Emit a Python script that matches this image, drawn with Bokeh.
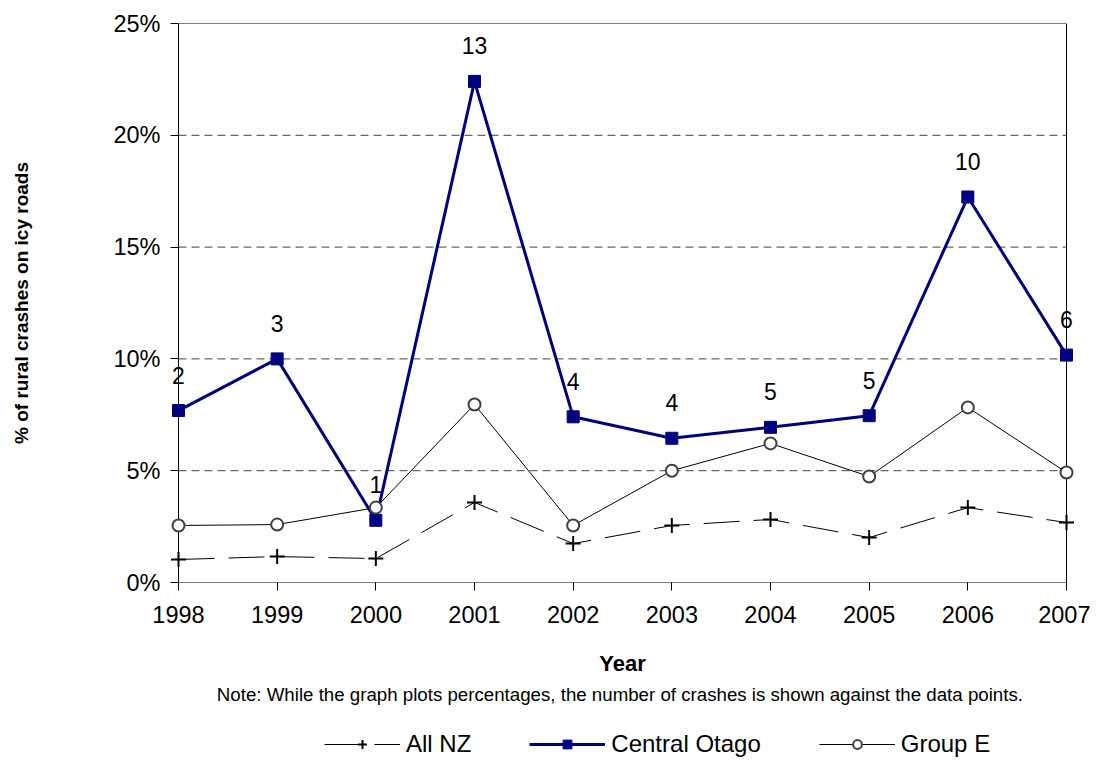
from bokeh.plotting import figure
from bokeh.layouts import column
from bokeh.models import (Range1d, FixedTicker, PrintfTickFormatter, Legend, LegendItem,
                          Title, Label)
from bokeh.embed import file_html
from bokeh.resources import INLINE

years = [1998, 1999, 2000, 2001, 2002, 2003, 2004, 2005, 2006, 2007]
all_nz = [1.03, 1.16, 1.07, 3.58, 1.74, 2.55, 2.82, 2.01, 3.35, 2.68]
central_otago = [7.69, 10.0, 2.78, 22.41, 7.41, 6.45, 6.94, 7.46, 17.24, 10.17]
group_e = [2.55, 2.59, 3.35, 7.96, 2.55, 5.0, 6.22, 4.74, 7.83, 4.92]
crash_counts = ["2", "3", "1", "13", "4", "4", "5", "5", "10", "6"]
y_ticks = [0, 5, 10, 15, 20, 25]
series_names = ["All NZ", "Central Otago", "Group E"]

FONT = "Liberation Sans"
NAVY = "#000080"

# a little horizontal room so labels at the first/last year are not clipped
pad = (years[-1] - years[0]) * 8.0 / 888.0

p = figure(frame_width=904, frame_height=559, output_backend="svg", toolbar_location=None,
           x_range=Range1d(years[0] - pad, years[-1] + pad),
           y_range=Range1d(y_ticks[0], y_ticks[-1]),
           min_border_left=170, min_border_right=16, min_border_top=23, min_border_bottom=143)
p.outline_line_color = None
p.background_fill_color = "white"
p.border_fill_color = "white"

# axes
p.xaxis.ticker = FixedTicker(ticks=years)
p.yaxis.ticker = FixedTicker(ticks=y_ticks)
p.yaxis.formatter = PrintfTickFormatter(format="%d%%")
for ax in (p.xaxis[0], p.yaxis[0]):
    ax.axis_line_color = None
    ax.major_tick_line_color = "black"
    ax.minor_tick_line_color = None
    ax.major_label_text_font = FONT
    ax.major_label_text_font_size = "23.5px"
    ax.major_label_text_color = "black"
    ax.axis_label_text_font = FONT
    ax.axis_label_text_font_style = "bold"
    ax.axis_label_text_color = "black"
p.xaxis.major_tick_in = 0
p.xaxis.major_tick_out = 8
p.yaxis.major_tick_in = 8
p.yaxis.major_tick_out = 0
p.xaxis.major_label_standoff = 15
p.yaxis.major_label_standoff = 10
p.xaxis.axis_label = "Year"
p.xaxis.axis_label_text_font_size = "22px"
p.xaxis.axis_label_standoff = 25
p.yaxis.axis_label = "% of rural crashes on icy roads"
p.yaxis.axis_label_text_font_size = "19px"
p.yaxis.axis_label_standoff = 78

p.xgrid.grid_line_color = None
p.ygrid.grid_line_color = None

# dashed gridlines spanning the plot box only
grid_vals = y_ticks[1:-1]
p.segment(x0=[years[0]] * len(grid_vals), x1=[years[-1]] * len(grid_vals),
          y0=grid_vals, y1=grid_vals, line_color="#444444", line_width=1, line_dash="8 5")
# plot box
p.quad(left=[years[0]], right=[years[-1]], bottom=[y_ticks[0]], top=[y_ticks[-1]],
       fill_color=None, line_color="black", line_width=1)

# series
l1 = p.line(years, all_nz, line_color="black", line_width=1, line_dash="36 14")
s1 = p.scatter(years, all_nz, marker="cross", size=15, line_color="black", line_width=2)

l2 = p.line(years, central_otago, line_color=NAVY, line_width=3)
s2 = p.scatter(years, central_otago, marker="square", size=12, line_color=NAVY,
               fill_color=NAVY)

l3 = p.line(years, group_e, line_color="black", line_width=1)
s3 = p.scatter(years, group_e, marker="circle", size=12, line_color="#404040",
               line_width=2, fill_color="white")

# crash counts above the Central Otago points
for xv, yv, t in zip(years, central_otago, crash_counts):
    p.add_layout(Label(x=xv, y=yv, text=t, y_offset=27, text_align="center",
                       text_baseline="bottom", text_font=FONT, text_font_size="23px",
                       text_color="black", level="overlay"))

note = Title(text="Note: While the graph plots percentages, the number of crashes is shown against the  data points.",
             align="center", text_font=FONT, text_font_size="18.7px", text_font_style="normal",
             text_color="black", standoff=6)
p.add_layout(note, "below")

# legend strip below the chart
lf = figure(width=1090, height=35, output_backend="svg", toolbar_location=None,
            x_range=Range1d(0, 1), y_range=Range1d(0, 1),
            min_border_left=0, min_border_right=0, min_border_top=0, min_border_bottom=0)
lf.axis.visible = False
lf.grid.visible = False
lf.outline_line_color = None
lf.border_fill_color = "white"
# same styled renderers, their data lies outside this strip's ranges
g1 = [lf.line(years, all_nz, line_color="black", line_width=1, line_dash="36 14"),
      lf.scatter(years, all_nz, marker="cross", size=13, line_color="black", line_width=2)]
g2 = [lf.line(years, central_otago, line_color=NAVY, line_width=3),
      lf.scatter(years, central_otago, marker="square", size=12, line_color=NAVY, fill_color=NAVY)]
g3 = [lf.line(years, group_e, line_color="black", line_width=1),
      lf.scatter(years, group_e, marker="circle", size=8, line_color="#404040",
                 line_width=2, fill_color="white")]
legend = Legend(items=[LegendItem(label=series_names[0], renderers=g1),
                       LegendItem(label=series_names[1], renderers=g2),
                       LegendItem(label=series_names[2], renderers=g3)],
                orientation="horizontal", location=(154, 2),
                label_text_font=FONT, label_text_font_size="24px", label_text_color="black",
                glyph_width=76, glyph_height=22, spacing=58, label_standoff=6,
                border_line_color=None, background_fill_alpha=0, margin=0, padding=0)
lf.add_layout(legend, "center")

layout = column(p, lf, spacing=0)
open("out.html", "w").write(file_html(layout, INLINE))
